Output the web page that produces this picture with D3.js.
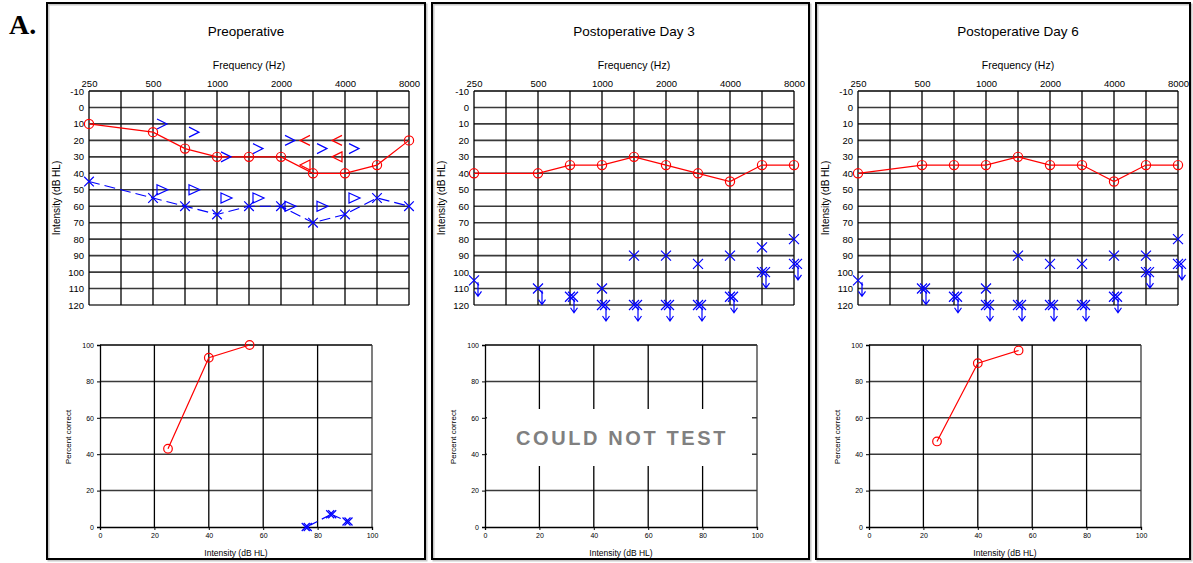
<!DOCTYPE html>
<html><head><meta charset="utf-8">
<script src="https://cdn.jsdelivr.net/npm/d3@7"></script>
<style>
body{margin:0;background:#fff;}
text{font-family:"Liberation Sans",Arial,sans-serif;fill:#000;}
</style></head>
<body><svg id="c" width="1193" height="563"></svg>
<script>
// ---------- data ----------
const freqCols = ["250","350","500","750","1000","1500","2000","3000","4000","6000","8000"];
const freqLabels = ["250","500","1000","2000","4000","8000"];
const dbTicks = [-10,0,10,20,30,40,50,60,70,80,90,100,110,120];
const speechTicks = [0,20,40,60,80,100];
const panelTitles = ["Preoperative","Postoperative Day 3","Postoperative Day 6"];

// Preoperative audiogram
const preRightAir = [["250",10],["500",15],["750",25],["1000",30],["1500",30],["2000",30],["3000",40],["4000",40],["6000",35],["8000",20]];
const preLeftAir  = [["250",45],["500",55],["750",60],["1000",65],["1500",60],["2000",60],["3000",70],["4000",65],["6000",55],["8000",60]];
const preLeftBoneUnmasked  = [["500",10],["750",15],["1000",30],["1500",25],["2000",20],["3000",25],["4000",25]];
const preRightBoneUnmasked = [["3000",20],["4000",20]];
const preRightBoneMasked   = [["3000",35],["4000",30]];
const preLeftBoneMasked    = [["500",50],["750",50],["1000",55],["1500",55],["2000",60],["3000",60],["4000",55]];
// Preoperative speech
const preSpeechRight = [[25,43],[40,93],[55,100]];
const preSpeechLeft  = [[76,0],[85,7],[91,3]];

// Postoperative day 3
const d3RightAir = [["250",40],["500",40],["750",35],["1000",35],["1500",30],["2000",35],["3000",40],["4000",45],["6000",35],["8000",35]];
const d3LeftResp = [["1000",110],["1500",90],["2000",90],["3000",95],["4000",90],["6000",85],["8000",80]];
const d3LeftNoResp = [["250",105,1],["500",110,1],["750",115,2],["1000",120,2],["1500",120,2],["2000",120,2],["3000",120,2],["4000",115,2],["6000",100,2],["8000",95,2]];

// Postoperative day 6
const d6RightAir = [["250",40],["500",35],["750",35],["1000",35],["1500",30],["2000",35],["3000",35],["4000",45],["6000",35],["8000",35]];
const d6LeftResp = [["1000",110],["1500",90],["2000",95],["3000",95],["4000",90],["6000",90],["8000",80]];
const d6LeftNoResp = [["250",105,1],["500",110,2],["750",115,2],["1000",120,2],["1500",120,2],["2000",120,2],["3000",120,2],["4000",115,2],["6000",100,2],["8000",95,2]];
const d6SpeechRight = [[25,47],[40,90],[55,97]];

// ---------- drawing ----------
const svg = d3.select("#c");
const RED = "#ff0000", BLUE = "#0000ff";

svg.append("text").attr("x",9).attr("y",34)
  .style("font-family","'Liberation Serif','Times New Roman',serif")
  .style("font-weight","bold").style("font-size","28px").text("A.");

const panels = [
  {x0:47, x1:425, dx:0},
  {x0:432, x1:809, dx:385},
  {x0:816, x1:1190, dx:769}
];

function xMark(g, cx, cy, s, color, w){
  g.append("path").attr("d",`M${cx-s},${cy-s}L${cx+s},${cy+s}M${cx-s},${cy+s}L${cx+s},${cy-s}`)
   .attr("stroke",color).attr("stroke-width",w||1.2).attr("fill","none");
}
function circ(g, cx, cy, r){
  g.append("circle").attr("cx",cx).attr("cy",cy).attr("r",r)
   .attr("fill","none").attr("stroke",RED).attr("stroke-width",1.2);
}
const fmt = d=>String(d);

panels.forEach((p,i)=>{
  const g = svg.append("g");
  // border with shadow
  g.append("rect").attr("x",p.x0+1.5).attr("y",4.5).attr("width",p.x1-p.x0).attr("height",556)
   .attr("fill","none").attr("stroke","#c8c8c8").attr("stroke-width",2);
  g.append("rect").attr("x",p.x0).attr("y",3).attr("width",p.x1-p.x0).attr("height",556)
   .attr("fill","none").attr("stroke","#000").attr("stroke-width",2);

  // ---------- audiogram ----------
  const x = d3.scalePoint().domain(freqCols).range([89+p.dx, 409+p.dx]);
  const y = d3.scaleLinear().domain([-10,120]).range([91,305]);
  const cxm = (x.range()[0]+x.range()[1])/2;

  g.append("text").attr("x",cxm-(i===0?3:0)).attr("y",36).attr("text-anchor","middle")
   .style("font-size","13.5px").text(panelTitles[i]);
  g.append("text").attr("x",cxm).attr("y",69).attr("text-anchor","middle")
   .style("font-size","10.5px").text("Frequency (Hz)");
  g.append("text").attr("transform",`translate(${60+p.dx},${198}) rotate(-90)`)
   .attr("text-anchor","middle").style("font-size","10px").text("Intensity (dB HL)");

  // grid
  const gridG = g.append("g");
  gridG.selectAll("line.h").data(dbTicks).join("line")
    .attr("x1",x.range()[0]).attr("x2",x.range()[1]).attr("y1",d=>y(d)).attr("y2",d=>y(d))
    .attr("stroke",d=>(d===-10?"#000":"#3a3a3a")).attr("stroke-width",1.6);
  gridG.selectAll("line.v").data(freqCols).join("line")
    .attr("x1",d=>x(d)).attr("x2",d=>x(d)).attr("y1",y(-10)).attr("y2",y(120))
    .attr("stroke","#000").attr("stroke-width",1.3);

  const ax = g.append("g").attr("transform",`translate(0,${y(-10)-4})`)
    .call(d3.axisTop(x).tickValues(freqLabels).tickSize(0).tickPadding(0));
  ax.select(".domain").remove();
  ax.selectAll("text").style("font-size","9.5px").style("font-family","'Liberation Sans',Arial,sans-serif").attr("fill","#000");
  const ay = g.append("g").attr("transform",`translate(${x.range()[0]-1},0)`)
    .call(d3.axisLeft(y).tickValues(dbTicks).tickFormat(fmt).tickSize(0).tickPadding(4));
  ay.select(".domain").remove();
  ay.selectAll("text").style("font-size","9.5px").style("font-family","'Liberation Sans',Arial,sans-serif").attr("fill","#000");

  const line = d3.line().x(d=>x(d[0])).y(d=>y(d[1]));
  const mk = g.append("g");

  if(i===0){
    mk.append("path").datum(preRightAir).attr("d",line).attr("fill","none").attr("stroke",RED).attr("stroke-width",1.2);
    mk.append("path").datum(preLeftAir).attr("d",line).attr("fill","none").attr("stroke",BLUE).attr("stroke-width",1.2).attr("stroke-dasharray","11,5");
    preRightAir.forEach(d=>circ(mk,x(d[0]),y(d[1]),4.6));
    preLeftAir.forEach(d=>xMark(mk,x(d[0]),y(d[1]),4.8,BLUE));
    preLeftBoneUnmasked.forEach(d=>{const cx=x(d[0]),cy=y(d[1]);
      mk.append("path").attr("d",`M${cx+4},${cy-5}L${cx+14},${cy}L${cx+4},${cy+5}`).attr("fill","none").attr("stroke",BLUE).attr("stroke-width",1.2);});
    preRightBoneUnmasked.forEach(d=>{const cx=x(d[0]),cy=y(d[1]);
      mk.append("path").attr("d",`M${cx-3},${cy-5}L${cx-13},${cy}L${cx-3},${cy+5}`).attr("fill","none").attr("stroke",RED).attr("stroke-width",1.2);});
    preRightBoneMasked.forEach(d=>{const cx=x(d[0]),cy=y(d[1]);
      mk.append("path").attr("d",`M${cx-3},${cy-5}L${cx-13},${cy}L${cx-3},${cy+5}Z`).attr("fill","none").attr("stroke",RED).attr("stroke-width",1.2);});
    preLeftBoneMasked.forEach(d=>{const cx=x(d[0]),cy=y(d[1]);
      mk.append("path").attr("d",`M${cx+4},${cy-5}L${cx+15},${cy}L${cx+4},${cy+5}Z`).attr("fill","none").attr("stroke",BLUE).attr("stroke-width",1.2);});
  } else {
    const ra = i===1?d3RightAir:d6RightAir;
    const lr = i===1?d3LeftResp:d6LeftResp;
    const nr = i===1?d3LeftNoResp:d6LeftNoResp;
    mk.append("path").datum(ra).attr("d",line).attr("fill","none").attr("stroke",RED).attr("stroke-width",1.2);
    ra.forEach(d=>circ(mk,x(d[0]),y(d[1]),4.6));
    lr.forEach(d=>xMark(mk,x(d[0]),y(d[1]),5,BLUE));
    nr.forEach(d=>{const cx=x(d[0]),cy=y(d[1]);
      for(let k=0;k<d[2];k++) xMark(mk,cx+k*3,cy,5,BLUE);
      const ax0=cx+4;
      mk.append("path").attr("d",`M${ax0},${cy+2}L${ax0},${cy+16}M${ax0-3.5},${cy+11}L${ax0},${cy+16}L${ax0+3.5},${cy+11}`)
        .attr("fill","none").attr("stroke",BLUE).attr("stroke-width",1.2);
    });
  }

  // ---------- speech chart ----------
  const sx = d3.scaleLinear().domain([0,100]).range([100+p.dx, 372+p.dx]);
  const sy = d3.scaleLinear().domain([0,100]).range([527,345]);
  const sg = g.append("g");
  sg.selectAll("line.h").data(speechTicks.slice(1)).join("line")
    .attr("x1",sx(0)).attr("x2",sx(100)).attr("y1",d=>sy(d)).attr("y2",d=>sy(d))
    .attr("stroke",d=>d===100?"#000":"#3a3a3a").attr("stroke-width",1.5);
  sg.selectAll("line.v").data(speechTicks.slice(1)).join("line")
    .attr("x1",d=>sx(d)).attr("x2",d=>sx(d)).attr("y1",sy(0)).attr("y2",sy(100))
    .attr("stroke",d=>d===100?"#3a3a3a":"#000").attr("stroke-width",1.3);

  if(i===1){
    sg.append("rect").attr("x",sx(0)+2).attr("y",409).attr("width",265).attr("height",57).attr("fill","#fff");
    sg.append("text").attr("x",(sx(0)+sx(100))/2+1).attr("y",445).attr("text-anchor","middle")
      .style("font-size","20px").style("font-weight","bold").style("letter-spacing","2.6px")
      .attr("fill","#808080").style("fill","#808080").text("COULD NOT TEST");
  }

  const sax = sg.append("g").attr("transform",`translate(0,${sy(0)})`)
    .call(d3.axisBottom(sx).tickValues(speechTicks).tickFormat(fmt).tickSize(3).tickPadding(3));
  sax.select(".domain").attr("stroke","#000").attr("stroke-width",1.3);
  sax.selectAll("line").attr("stroke","#000");
  sax.selectAll("text").style("font-size","7px").style("font-family","'Liberation Sans',Arial,sans-serif").attr("fill","#000");
  const say = sg.append("g").attr("transform",`translate(${sx(0)},0)`)
    .call(d3.axisLeft(sy).tickValues(speechTicks).tickFormat(fmt).tickSize(3).tickPadding(3));
  say.select(".domain").attr("stroke","#000").attr("stroke-width",1.3);
  say.selectAll("line").attr("stroke","#000");
  say.selectAll("text").style("font-size","7px").style("font-family","'Liberation Sans',Arial,sans-serif").attr("fill","#000");

  sg.append("text").attr("x",(sx(0)+sx(100))/2).attr("y",556).attr("text-anchor","middle")
    .style("font-size","8.5px").text("Intensity (dB HL)");
  sg.append("text").attr("transform",`translate(${71+p.dx},${437}) rotate(-90)`).attr("text-anchor","middle")
    .style("font-size","8px").text("Percent correct");

  const sline = d3.line().x(d=>sx(d[0])).y(d=>sy(d[1]));
  if(i===0){
    sg.append("path").datum(preSpeechRight).attr("d",sline).attr("fill","none").attr("stroke",RED).attr("stroke-width",1.2);
    preSpeechRight.forEach(d=>circ(sg,sx(d[0]),sy(d[1]),4.3));
    sg.append("path").datum(preSpeechLeft).attr("d",sline).attr("fill","none").attr("stroke",BLUE).attr("stroke-width",1.2).attr("stroke-dasharray","8,5").attr("stroke-dashoffset",-4);
    preSpeechLeft.forEach(d=>{xMark(sg,sx(d[0])-1,sy(d[1]),4,BLUE);xMark(sg,sx(d[0])+1,sy(d[1]),4,BLUE);});
  } else if(i===2){
    sg.append("path").datum(d6SpeechRight).attr("d",sline).attr("fill","none").attr("stroke",RED).attr("stroke-width",1.2);
    d6SpeechRight.forEach(d=>circ(sg,sx(d[0]),sy(d[1]),4.3));
  }
});
</script></body></html>
